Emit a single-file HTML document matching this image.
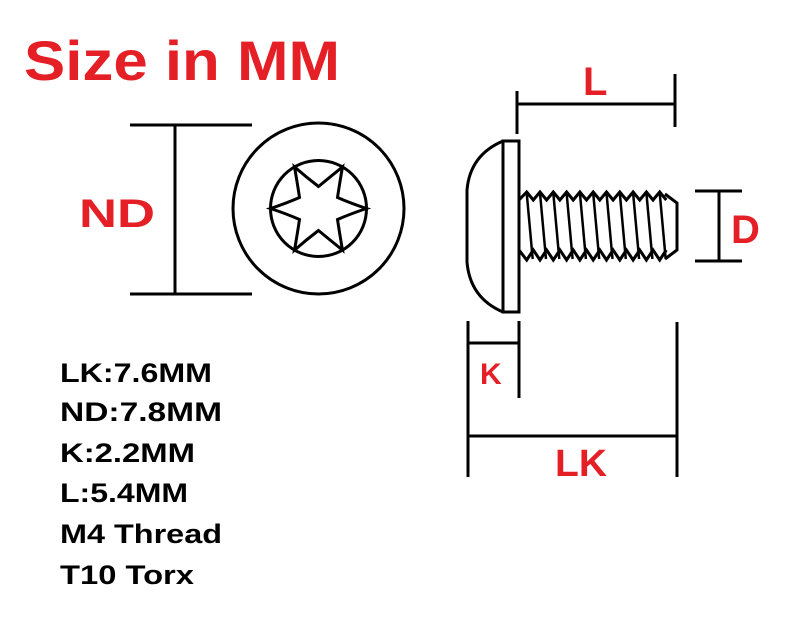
<!DOCTYPE html>
<html><head><meta charset="utf-8"><style>
html,body{margin:0;padding:0;background:#fff;}
svg{display:block}
text{font-family:"Liberation Sans","DejaVu Sans",sans-serif;font-weight:bold}
</style></head><body>
<svg width="800" height="617" viewBox="0 0 800 617" xmlns="http://www.w3.org/2000/svg">
<rect width="800" height="617" fill="#fff"/>
<text x="24" y="80" font-size="56" fill="#e41f26" textLength="316" lengthAdjust="spacingAndGlyphs">Size in MM</text>
<g stroke="#000" stroke-width="3" fill="none">
<line x1="130" y1="125" x2="252" y2="125"/>
<line x1="130" y1="294" x2="252" y2="294"/>
<line x1="175" y1="125" x2="175" y2="294"/>
<circle cx="318.5" cy="208.5" r="85.5"/>
<circle cx="318.5" cy="208.5" r="48"/>
<path d="M366.5,208.5 Q350,214 337.5,219.5 Q340,236 342.5,250.1 Q330,240 318.5,230.5 Q306,240 294.5,250.1 Q297,236 299.5,219.5 Q287,214 270.5,208.5 Q287,203 299.5,197.5 Q297,181 294.5,166.9 Q306,177 318.5,186.5 Q330,177 342.5,166.9 Q340,181 337.5,197.5 Q350,203 366.5,208.5 Z"/>
<rect x="503" y="141" width="16" height="171"/>
<path d="M503,141 Q470,155 467,190 L467,262 Q470,298 503,312"/>
<path d="M519,200 L526.7,192 L533.3,200 L540,192 L546.6,200 L553.3,192 L559.9,200 L566.6,192 L573.2,200 L579.9,192 L586.5,200 L593.2,192 L599.8,200 L606.5,192 L613.1,200 L619.8,192 L626.4,200 L633.1,192 L639.7,200 L646.4,192 L653,200 L659.7,192 L666.3,200"/>
<path d="M519,250 L526.7,260 L533.3,250 L540,260 L546.6,250 L553.3,260 L559.9,250 L566.6,260 L573.2,250 L579.9,260 L586.5,250 L593.2,260 L599.8,250 L606.5,260 L613.1,250 L619.8,260 L626.4,250 L633.1,260 L639.7,250 L646.4,260 L653,250 L659.7,260 L666.3,250"/>
<g stroke-width="2.5">
<line x1="526.7" y1="193" x2="532.7" y2="259"/>
<line x1="540" y1="193" x2="546" y2="259"/>
<line x1="553.3" y1="193" x2="559.3" y2="259"/>
<line x1="566.6" y1="193" x2="572.6" y2="259"/>
<line x1="579.9" y1="193" x2="585.9" y2="259"/>
<line x1="593.2" y1="193" x2="599.2" y2="259"/>
<line x1="606.5" y1="193" x2="612.5" y2="259"/>
<line x1="619.8" y1="193" x2="625.8" y2="259"/>
<line x1="633.1" y1="193" x2="639.1" y2="259"/>
<line x1="646.4" y1="193" x2="652.4" y2="259"/>
<line x1="659.7" y1="193" x2="665.7" y2="259"/>
</g>
<path d="M665,194 L677,203 L677,250 L665,259"/>
<line x1="517" y1="91" x2="517" y2="134"/>
<line x1="675" y1="74" x2="675" y2="127"/>
<line x1="517" y1="104" x2="675" y2="104"/>
<line x1="695" y1="191" x2="742" y2="191"/>
<line x1="695" y1="261" x2="742" y2="261"/>
<line x1="719" y1="191" x2="719" y2="261"/>
<line x1="468" y1="321" x2="468" y2="477"/>
<line x1="519" y1="321" x2="519" y2="398"/>
<line x1="468" y1="343" x2="519" y2="343"/>
<line x1="677" y1="322" x2="677" y2="477"/>
<line x1="468" y1="436" x2="677" y2="436"/>
</g>
<text x="79" y="227" font-size="40" fill="#e41f26" textLength="76" lengthAdjust="spacingAndGlyphs">ND</text>
<text x="583" y="95" font-size="40" fill="#e41f26">L</text>
<text x="731" y="243" font-size="40" fill="#e41f26">D</text>
<text x="480" y="384" font-size="30" fill="#e41f26">K</text>
<text x="555" y="476" font-size="38" fill="#e41f26" textLength="52" lengthAdjust="spacingAndGlyphs">LK</text>
<g font-size="27" fill="#000">
<text x="60" y="382" textLength="152" lengthAdjust="spacingAndGlyphs">LK:7.6MM</text>
<text x="60" y="421" textLength="162" lengthAdjust="spacingAndGlyphs">ND:7.8MM</text>
<text x="60" y="462" textLength="135" lengthAdjust="spacingAndGlyphs">K:2.2MM</text>
<text x="60" y="502" textLength="128" lengthAdjust="spacingAndGlyphs">L:5.4MM</text>
<text x="60" y="543" textLength="162" lengthAdjust="spacingAndGlyphs">M4 Thread</text>
<text x="60" y="584" textLength="134" lengthAdjust="spacingAndGlyphs">T10 Torx</text>
</g>
</svg>
</body></html>
